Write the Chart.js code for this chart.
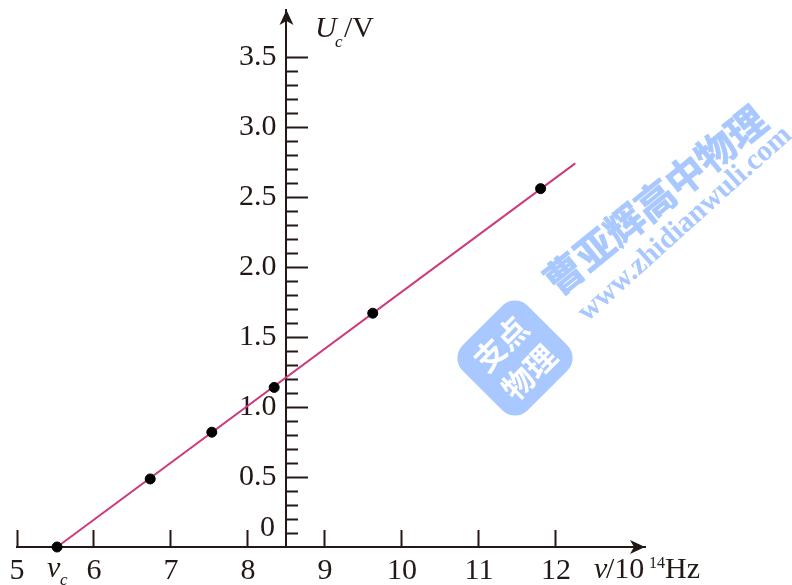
<!DOCTYPE html>
<html>
<head>
<meta charset="utf-8">
<style>
    html, body { margin: 0; padding: 0; background: #fff; }
    #wrap { position: relative; width: 792px; height: 585px; }
</style>
<script src="https://cdn.jsdelivr.net/npm/chart.js@4"></script>
</head>
<body>
<div id="wrap"><canvas id="chart"></canvas></div>
<script>
    const freq = [5.52, 6.73, 7.53, 8.34, 9.62, 11.8];
    const stopVoltage = [0, 0.486, 0.82, 1.14, 1.67, 2.56];
    const fitFreq = [5.52, 12.25];
    const fitVoltage = [0, 2.74];
    const xTickValues = [5, 6, 7, 8, 9, 10, 11, 12];
    const yMajorTicks = [0.5, 1, 1.5, 2, 2.5, 3, 3.5];
    const yMinorTicks = [0.1, 0.2, 0.3, 0.4, 0.6, 0.7, 0.8, 0.9, 1.1, 1.2, 1.3, 1.4, 1.6, 1.7, 1.8, 1.9,
        2.1, 2.2, 2.3, 2.4, 2.6, 2.7, 2.8, 2.9, 3.1, 3.2, 3.3, 3.4];

    const INK = '#231815';
    const SERIF = '"Liberation Serif", serif';
    const WATER = '#a8c8ff';

    function setTicks(values) {
        return function (scale) { scale.ticks = values.map(v => ({ value: v })); };
    }

    // axes sit inside the plot, they must not eat layout space
    function noSpace(scale) {
        if (scale.axis === 'x') scale.height = 0; else scale.width = 0;
        scale.paddingLeft = scale.paddingRight = scale.paddingTop = scale.paddingBottom = 0;
    }

    function text(ctx, str, x, y, font, align) {
        ctx.font = font;
        ctx.textAlign = align || 'left';
        ctx.fillText(str, x, y);
    }

    const extras = {
        id: 'extras',
        beforeDatasetsDraw(chart) {
            const ctx = chart.ctx;
            // watermark
            ctx.save();
            ctx.fillStyle = WATER;
            ctx.strokeStyle = WATER;
            ctx.textBaseline = 'middle';
            ctx.save();
            ctx.translate(655, 200);
            ctx.rotate(-39 * Math.PI / 180);
            ctx.font = 'bold 39px "Noto Sans CJK SC"';
            ctx.textAlign = 'center';
            ctx.lineWidth = 0.8;
            ctx.strokeText('曹亚辉高中物理', 0, 0);
            ctx.fillText('曹亚辉高中物理', 0, 0);
            ctx.restore();
            ctx.save();
            ctx.translate(685, 224);
            ctx.rotate(-42 * Math.PI / 180);
            ctx.font = 'bold 29.5px ' + SERIF;
            ctx.textAlign = 'center';
            ctx.fillText('www.zhidianwuli.com', 0, 0);
            ctx.restore();
            ctx.save();
            ctx.translate(515, 358);
            ctx.rotate(-45 * Math.PI / 180);
            ctx.beginPath();
            ctx.roundRect(-46, -46, 92, 92, 18);
            ctx.fill();
            ctx.fillStyle = '#fff';
            text(ctx, '支点', 0, -20, 'bold 31px "Noto Sans CJK SC"', 'center');
            text(ctx, '物理', 0, 20, 'bold 31px "Noto Sans CJK SC"', 'center');
            ctx.restore();
            ctx.restore();
        },
        afterDraw(chart) {
            const ctx = chart.ctx;
            const { x, y } = chart.scales;
            const ox = x.getPixelForValue(8.5);
            const oy = y.getPixelForValue(0);
            ctx.save();
            ctx.fillStyle = INK;
            // arrow heads
            ctx.beginPath();
            ctx.moveTo(ox, chart.chartArea.top);
            ctx.lineTo(ox - 7, chart.chartArea.top + 15);
            ctx.lineTo(ox, chart.chartArea.top + 11);
            ctx.lineTo(ox + 7, chart.chartArea.top + 15);
            ctx.closePath();
            ctx.fill();
            ctx.beginPath();
            ctx.moveTo(chart.chartArea.right, oy);
            ctx.lineTo(chart.chartArea.right - 15, oy - 7);
            ctx.lineTo(chart.chartArea.right - 11, oy);
            ctx.lineTo(chart.chartArea.right - 15, oy + 7);
            ctx.closePath();
            ctx.fill();

            ctx.textBaseline = 'alphabetic';
            // the 0 is lifted off the axis in the original
            text(ctx, '0', 275, 536, '30px ' + SERIF, 'right');
            // threshold frequency label
            const vx = x.getPixelForValue(fitFreq[0]);
            text(ctx, 'ν', vx - 10, 577, 'italic 30px ' + SERIF);
            text(ctx, 'c', vx + 3, 585, 'italic 17px ' + SERIF);
            // y axis title
            text(ctx, 'U', 315, 37, 'italic 30px ' + SERIF);
            text(ctx, 'c', 335, 47, 'italic 17px ' + SERIF);
            text(ctx, '/V', 344, 37, '30px ' + SERIF);
            // x axis title
            text(ctx, 'ν', 594, 578, 'italic 30px ' + SERIF);
            text(ctx, '/10', 606, 578, '30px ' + SERIF);
            text(ctx, '14', 649, 568, '16px ' + SERIF);
            text(ctx, 'Hz', 665, 578, '30px ' + SERIF);
            ctx.restore();
        }
    };

    new Chart(document.getElementById('chart'), {
        type: 'scatter',
        data: {
            datasets: [
                {
                    data: freq.map((f, i) => ({ x: f, y: stopVoltage[i] })),
                    backgroundColor: '#000',
                    borderColor: '#000',
                    pointRadius: 5,
                    clip: false,
                    order: 1
                },
                {
                    data: fitFreq.map((f, i) => ({ x: f, y: fitVoltage[i] })),
                    showLine: true,
                    borderColor: '#cc3a7c',
                    borderWidth: 2,
                    pointRadius: 0,
                    clip: false,
                    order: 2
                }
            ]
        },
        options: {
            responsive: true,
            maintainAspectRatio: false,
            animation: false,
            layout: { autoPadding: false, padding: { left: 17, right: 147, top: 10, bottom: 38 } },
            plugins: { legend: { display: false }, tooltip: { enabled: false } },
            scales: {
                x: {
                    type: 'linear',
                    min: 5,
                    max: 13.156,
                    position: { y: 0 },
                    afterBuildTicks: setTicks(xTickValues),
                    afterFit: noSpace,
                    border: { color: INK, width: 2 },
                    grid: { drawOnChartArea: false, tickLength: -18, tickColor: INK, tickWidth: 2 },
                    ticks: {
                        autoSkip: false,
                        maxRotation: 0,
                        padding: 24,
                        color: INK,
                        font: { family: SERIF, size: 30 }
                    }
                },
                y: {
                    type: 'linear',
                    min: 0,
                    max: 3.836,
                    position: { x: 8.5 },
                    afterBuildTicks: setTicks(yMajorTicks),
                    afterFit: noSpace,
                    border: { color: INK, width: 2 },
                    grid: { drawOnChartArea: false, tickLength: -23, tickColor: INK, tickWidth: 2 },
                    ticks: {
                        autoSkip: false,
                        color: INK,
                        font: { family: SERIF, size: 30 },
                        callback: v => v.toFixed(1) + ' \u200a'
                    }
                },
                yMinor: {
                    type: 'linear',
                    axis: 'y',
                    min: 0,
                    max: 3.836,
                    position: { x: 8.5 },
                    afterBuildTicks: setTicks(yMinorTicks),
                    afterFit: noSpace,
                    border: { display: false },
                    grid: { drawOnChartArea: false, tickLength: -12, tickColor: INK, tickWidth: 2 },
                    ticks: { autoSkip: false, display: false }
                }
            }
        },
        plugins: [extras]
    });
</script>
</body>
</html>
